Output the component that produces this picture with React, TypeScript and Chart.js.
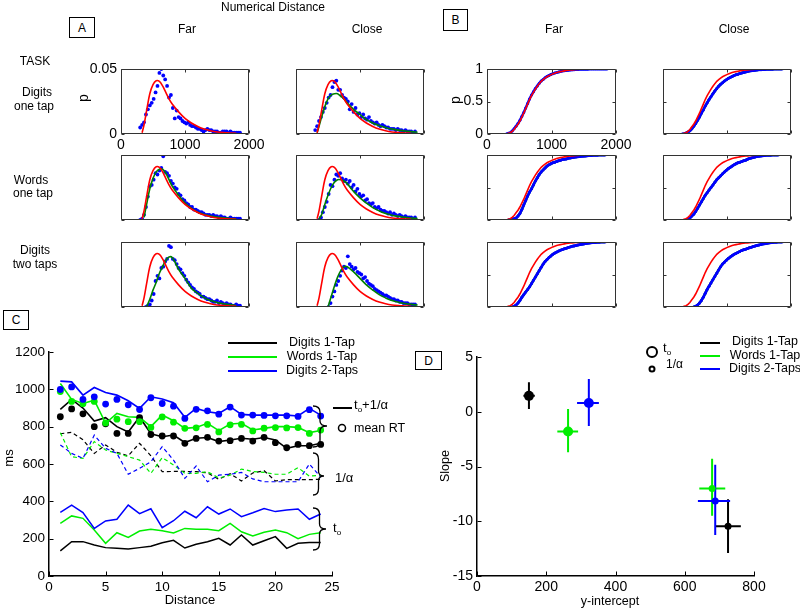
import React, { useEffect, useRef } from "react";
import { Chart, registerables } from "chart.js";
Chart.register(...registerables);

const FONT = 'Arial, "Liberation Sans", Helvetica, sans-serif';
Chart.defaults.font.family = FONT;
Chart.defaults.color = "#000";

// ---------- Panel A / B data (RT in ms) ----------
const BIN_X = [300, 330, 360, 390, 420, 450, 480, 510, 540, 570, 600, 630, 660, 690, 720, 750, 780, 810, 840, 870, 900, 930, 960, 990, 1020, 1050, 1080, 1110, 1140, 1170, 1200, 1230, 1260, 1290, 1320, 1350, 1380, 1410, 1440, 1470, 1500, 1530, 1560, 1590, 1620, 1650, 1680, 1710, 1740, 1770, 1800, 1830, 1860];
const CURVE_X = [300, 330, 360, 400, 450, 500, 550, 600, 650, 700, 750, 800, 900, 1000, 1100, 1200, 1300, 1400, 1500, 1600, 1700, 1800, 1900];

const A_RED = [null, 0.001, 0.007, 0.018, 0.031, 0.038, 0.041, 0.0405, 0.037, 0.032, 0.027, 0.023, 0.017, 0.012, 0.0085, 0.0058, 0.0038, 0.0025, 0.0016, 0.0011, 0.0008, 0.0005, null];
const A_GREEN_R1_CLOSE = [null, 0.001, 0.006, 0.013, 0.021, 0.027, 0.030, 0.031, 0.031, 0.029, 0.027, 0.024, 0.019, 0.015, 0.011, 0.0085, 0.0065, 0.005, 0.0038, 0.003, 0.0023, 0.0018, 0.0014];
const A_GREEN_R2_FAR = [null, null, 0.002, 0.012, 0.024, 0.032, 0.037, 0.039, 0.039, 0.036, 0.031, 0.026, 0.019, 0.013, 0.009, 0.006, 0.0042, 0.003, 0.0022, 0.0016, 0.0012, 0.0009, null];
const A_GREEN_R2_CLOSE = [null, null, 0.001, 0.004, 0.012, 0.019, 0.025, 0.029, 0.031, 0.031, 0.030, 0.028, 0.022, 0.017, 0.013, 0.0095, 0.007, 0.005, 0.0037, 0.0028, 0.002, 0.0015, 0.0011];
const A_GREEN_R3_FAR = [null, null, null, 0.0, 0.006, 0.013, 0.019, 0.026, 0.031, 0.036, 0.0385, 0.038, 0.029, 0.022, 0.0145, 0.0105, 0.0072, 0.005, 0.0035, 0.0025, 0.0018, 0.0012, null];
const A_GREEN_R3_CLOSE = [null, null, null, null, null, 0.0, 0.008, 0.016, 0.023, 0.028, 0.031, 0.031, 0.027, 0.022, 0.017, 0.013, 0.0095, 0.007, 0.005, 0.0037, 0.0027, 0.002, 0.0015];

const A_BLUE_R1_FAR = [0.005, 0.007, 0.009, 0.015, 0.019, 0.022, 0.024, 0.027, 0.032, 0.037, 0.047, 0.050, 0.045, 0.042, 0.037, 0.028, 0.030, 0.020, 0.012, 0.018, 0.013, 0.012, 0.010, 0.009, 0.008, 0.009, 0.007, 0.006, 0.006, 0.005, 0.004, 0.004, 0.003, 0.002, 0.003, 0.004, 0.003, 0.003, 0.002, 0.002, 0.002, 0.001, 0.001, 0.002, 0.002, 0.002, 0.001, 0.002, 0.001, 0.001, 0.001, 0.001, 0.001];
const A_BLUE_R1_CLOSE = [0.003, 0.006, 0.010, 0.013, 0.017, 0.020, 0.024, 0.028, 0.030, 0.036, 0.040, 0.041, 0.034, 0.034, 0.030, 0.028, 0.027, 0.025, 0.019, 0.023, 0.017, 0.020, 0.015, 0.016, 0.013, 0.015, 0.012, 0.011, 0.013, 0.010, 0.009, 0.008, 0.009, 0.007, 0.006, 0.007, 0.006, 0.005, 0.005, 0.004, 0.004, 0.004, 0.003, 0.004, 0.003, 0.003, 0.002, 0.003, 0.002, 0.002, 0.002, 0.001, 0.002];
const A_BLUE_R2_FAR = [0.0, 0.001, 0.004, 0.010, 0.018, 0.026, 0.027, 0.031, 0.036, 0.035, 0.038, 0.040, 0.049, 0.037, 0.036, 0.034, 0.030, 0.028, 0.025, 0.024, 0.020, 0.019, 0.016, 0.015, 0.013, 0.012, 0.010, 0.010, 0.008, 0.008, 0.007, 0.006, 0.006, 0.005, 0.004, 0.004, 0.004, 0.003, 0.004, 0.003, 0.003, 0.002, 0.003, 0.002, 0.002, 0.001, 0.001, 0.002, 0.001, 0.001, 0.001, 0.001, 0.001];
const A_BLUE_R2_CLOSE = [null, null, 0.0, 0.002, 0.006, 0.010, 0.014, 0.020, 0.027, 0.026, 0.031, 0.035, 0.034, 0.036, 0.032, 0.030, 0.031, 0.028, 0.030, 0.025, 0.027, 0.022, 0.024, 0.020, 0.018, 0.019, 0.015, 0.016, 0.013, 0.012, 0.013, 0.010, 0.009, 0.010, 0.008, 0.007, 0.007, 0.006, 0.005, 0.006, 0.004, 0.005, 0.004, 0.003, 0.004, 0.003, 0.002, 0.003, 0.002, 0.002, 0.002, 0.001, 0.002];
const A_BLUE_R3_FAR = [null, null, null, 0.0, 0.001, 0.002, 0.005, 0.010, 0.020, 0.024, 0.022, 0.030, 0.031, 0.035, 0.037, 0.047, 0.046, 0.037, 0.036, 0.033, 0.030, 0.029, 0.026, 0.024, 0.021, 0.019, 0.017, 0.015, 0.014, 0.012, 0.011, 0.010, 0.008, 0.008, 0.007, 0.006, 0.006, 0.005, 0.004, 0.004, 0.005, 0.003, 0.004, 0.003, 0.002, 0.003, 0.002, 0.002, 0.001, 0.001, 0.002, 0.001, 0.001];
const A_BLUE_R3_CLOSE = [null, null, null, null, null, null, null, 0.0, 0.003, 0.008, 0.012, 0.017, 0.020, 0.024, 0.028, 0.031, 0.030, 0.039, 0.033, 0.031, 0.029, 0.030, 0.027, 0.026, 0.025, 0.022, 0.023, 0.020, 0.018, 0.017, 0.016, 0.014, 0.013, 0.012, 0.011, 0.010, 0.009, 0.009, 0.008, 0.007, 0.006, 0.006, 0.005, 0.005, 0.004, 0.004, 0.003, 0.003, 0.003, 0.002, 0.002, 0.002, 0.002];

const B_RED = [0.0, 0.01, 0.02, 0.04, 0.07, 0.11, 0.15, 0.20, 0.26, 0.32, 0.39, 0.46, 0.53, 0.59, 0.64, 0.69, 0.735, 0.775, 0.81, 0.835, 0.86, 0.88, 0.895, 0.91, 0.925, 0.935, 0.945, 0.953, 0.96, 0.966, 0.971, 0.976, 0.98, 0.984, 0.987, 0.99, 0.992, 0.994, 0.995, 0.996, 0.997, 0.998, 0.999, 0.999, 1, 1, 1, 1, 1, 1, 1, null, null];
const B_BLUE_R1_FAR = [0.0, 0.01, 0.02, 0.045, 0.08, 0.12, 0.16, 0.21, 0.27, 0.33, 0.40, 0.47, 0.54, 0.60, 0.65, 0.70, 0.74, 0.78, 0.815, 0.84, 0.865, 0.885, 0.90, 0.915, 0.928, 0.938, 0.947, 0.955, 0.962, 0.968, 0.973, 0.977, 0.981, 0.984, 0.987, 0.99, 0.992, 0.994, 0.995, 0.996, 0.997, 0.998, 0.998, 0.999, 0.999, 1, 1, 1, 1, 1, 1, 1, 1];
const B_BLUE_R1_CLOSE = [0.0, 0.005, 0.015, 0.03, 0.05, 0.08, 0.12, 0.16, 0.21, 0.26, 0.32, 0.37, 0.43, 0.48, 0.53, 0.575, 0.62, 0.66, 0.70, 0.735, 0.765, 0.79, 0.815, 0.835, 0.855, 0.87, 0.885, 0.90, 0.91, 0.92, 0.93, 0.94, 0.948, 0.955, 0.962, 0.968, 0.973, 0.978, 0.982, 0.985, 0.988, 0.99, 0.992, 0.994, 0.995, 0.996, 0.997, 0.998, 0.999, 1, 1, 1, 1];
const B_BLUE_R2_FAR = [null, 0.0, 0.005, 0.01, 0.02, 0.03, 0.06, 0.10, 0.16, 0.23, 0.30, 0.37, 0.43, 0.48, 0.54, 0.60, 0.65, 0.70, 0.74, 0.77, 0.80, 0.83, 0.85, 0.865, 0.88, 0.89, 0.90, 0.91, 0.92, 0.93, 0.935, 0.94, 0.95, 0.955, 0.96, 0.965, 0.97, 0.975, 0.978, 0.98, 0.983, 0.986, 0.989, 0.991, 0.993, 0.995, 0.997, 0.998, 0.999, 1, 1, 1, null];
const B_BLUE_R2_CLOSE = [null, null, 0.0, 0.01, 0.03, 0.06, 0.09, 0.13, 0.18, 0.23, 0.28, 0.33, 0.38, 0.42, 0.46, 0.50, 0.54, 0.58, 0.62, 0.65, 0.68, 0.71, 0.74, 0.765, 0.79, 0.81, 0.83, 0.85, 0.865, 0.88, 0.89, 0.90, 0.91, 0.92, 0.935, 0.945, 0.955, 0.963, 0.97, 0.976, 0.98, 0.985, 0.989, 0.992, 0.995, 0.997, 0.998, 0.999, 1, 1, 1, null, null];
const B_BLUE_R3_FAR = [null, null, null, 0.0, 0.01, 0.03, 0.06, 0.10, 0.15, 0.19, 0.23, 0.27, 0.31, 0.36, 0.41, 0.46, 0.51, 0.56, 0.61, 0.66, 0.70, 0.73, 0.76, 0.785, 0.81, 0.83, 0.845, 0.86, 0.875, 0.885, 0.895, 0.905, 0.915, 0.925, 0.935, 0.94, 0.948, 0.955, 0.96, 0.966, 0.971, 0.976, 0.98, 0.984, 0.988, 0.991, 0.994, 0.996, 0.998, 1, 1, 1, null];
const B_BLUE_R3_CLOSE = [null, null, null, null, null, null, 0.0, 0.01, 0.03, 0.06, 0.10, 0.15, 0.21, 0.27, 0.32, 0.37, 0.42, 0.47, 0.52, 0.57, 0.62, 0.66, 0.69, 0.72, 0.745, 0.77, 0.79, 0.81, 0.825, 0.84, 0.855, 0.87, 0.88, 0.89, 0.90, 0.91, 0.92, 0.93, 0.94, 0.948, 0.955, 0.962, 0.968, 0.974, 0.979, 0.984, 0.988, 0.992, 0.995, 0.997, 0.999, 1, 1];

// ---------- Panel C data ----------
const DISTANCE = [1, 2, 3, 4, 5, 6, 7, 8, 9, 10, 11, 12, 13, 14, 15, 16, 17, 18, 19, 20, 21, 22, 23, 24];
const TASKS = ["Digits 1-Tap", "Words 1-Tap", "Digits 2-Taps"];
const TASK_COLORS = ["#000000", "#00ee00", "#0000ff"];

const MEAN_RT_DIGITS1 = [853, 895, 869, 800, 815, 764, 764, 848, 758, 750, 750, 711, 737, 743, 723, 725, 737, 723, 743, 714, 687, 705, 698, 705];
const MEAN_RT_WORDS1 = [988, 935, 923, 935, 820, 840, 827, 827, 796, 852, 824, 791, 794, 812, 772, 810, 812, 777, 792, 795, 793, 795, 764, 782];
const MEAN_RT_DIGITS2 = [999, 1013, 946, 960, 921, 946, 917, 892, 955, 924, 910, 844, 893, 885, 867, 905, 862, 862, 860, 858, 858, 855, 891, 857];

const FIT_DIGITS1 = [893, 946, 900, 830, 848, 800, 772, 852, 762, 746, 755, 715, 738, 742, 720, 729, 738, 733, 742, 729, 684, 698, 698, 711];
const FIT_WORDS1 = [1031, 946, 924, 942, 818, 871, 853, 850, 800, 862, 832, 791, 796, 818, 779, 814, 818, 782, 791, 800, 800, 796, 768, 779];
const FIT_DIGITS2 = [1044, 1040, 969, 1010, 983, 969, 939, 898, 960, 948, 928, 850, 898, 880, 871, 907, 866, 862, 862, 862, 862, 857, 898, 862];

const ALPHA_DIGITS1 = [762, 770, 730, 657, 702, 663, 644, 711, 644, 559, 560, 560, 559, 552, 518, 548, 509, 552, 564, 509, 516, 516, 516, 518];
const ALPHA_WORDS1 = [768, 639, 630, 720, 675, 657, 639, 621, 550, 634, 595, 550, 550, 559, 525, 540, 573, 560, 555, 545, 545, 580, 535, 540];
const ALPHA_DIGITS2 = [702, 657, 630, 755, 684, 657, 545, 577, 612, 693, 621, 523, 589, 505, 540, 545, 555, 520, 505, 505, 505, 505, 600, 530];

const T0_DIGITS1 = [135, 184, 184, 166, 152, 148, 145, 152, 159, 178, 191, 150, 170, 184, 202, 166, 220, 166, 189, 211, 148, 175, 179, 179];
const T0_WORDS1 = [282, 322, 309, 246, 175, 232, 207, 241, 251, 242, 230, 255, 250, 250, 243, 282, 237, 214, 234, 246, 232, 200, 223, 232];
const T0_DIGITS2 = [341, 380, 340, 255, 295, 304, 380, 334, 360, 259, 296, 347, 312, 371, 332, 359, 318, 339, 362, 345, 354, 359, 304, 332];

// ---------- Panel D data (per task: Digits 1-Tap, Words 1-Tap, Digits 2-Taps) ----------
const D_T0_X = [150, 263, 323];
const D_T0_Y = [1.45, -1.8, 0.8];
const D_T0_XLO = [134, 232, 289];
const D_T0_XHI = [167, 292, 352];
const D_T0_YLO = [0.25, -3.7, -1.3];
const D_T0_YHI = [2.7, 0.25, 3.0];

const D_A_X = [725, 679, 688];
const D_A_Y = [-10.45, -7.0, -8.15];
const D_A_XLO = [690, 642, 638];
const D_A_XHI = [762, 717, 731];
const D_A_YLO = [-12.9, -9.5, -11.25];
const D_A_YHI = [-8.0, -4.3, -4.85];

// ---------- helpers ----------
type Box = { x: number; y: number; w: number; h: number };
type M = { l: number; t: number; r: number; b: number };

function xy(xs: number[], ys: (number | null)[]) {
  const out: { x: number; y: number }[] = [];
  for (let i = 0; i < xs.length; i++) {
    const v = ys[i];
    if (v !== null && v !== undefined) out.push({ x: xs[i], y: v });
  }
  return out;
}

function lineDs(data: any[], color: string, width: number, order: number, extra: any = {}) {
  return { data, showLine: true, borderColor: color, backgroundColor: color, borderWidth: width, pointRadius: 0, pointHoverRadius: 0, fill: false, tension: 0, order, ...extra };
}
function dotDs(data: any[], color: string, r: number, order: number) {
  return { data, showLine: false, pointRadius: r, pointHoverRadius: r, pointBackgroundColor: color, pointBorderWidth: 0, backgroundColor: color, borderColor: color, order };
}

function axis(kind: "x" | "y", size: number, min: number, max: number, step: number, labels: boolean, fontSize: number, padding: number, border: boolean) {
  return {
    type: "linear",
    min,
    max,
    ticks: {
      stepSize: step,
      display: labels,
      autoSkip: false,
      maxRotation: 0,
      minRotation: 0,
      padding,
      font: { size: fontSize, family: FONT },
      color: "#000",
      callback: (v: number) => String(Math.round(v * 1000) / 1000),
    },
    grid: { display: false, drawTicks: false },
    border: border ? { display: true, color: "#000", width: 1.5 } : { display: false },
    afterFit: (s: any) => {
      if (kind === "x") s.height = size;
      else s.width = size;
      s.paddingLeft = 0;
      s.paddingRight = 0;
      s.paddingTop = 0;
      s.paddingBottom = 0;
    },
  };
}

function framePlugin(box: boolean, len: number, color: string) {
  return {
    id: "frame",
    afterDatasetsDraw(chart: any) {
      const { ctx, chartArea: a, scales } = chart;
      const xs = scales.x;
      const ys = scales.y;
      const L = Math.round(a.left) + 0.5;
      const R = Math.round(a.right) - 0.5;
      const T = Math.round(a.top) + 0.5;
      const B = Math.round(a.bottom) - 0.5;
      ctx.save();
      ctx.strokeStyle = color;
      ctx.lineWidth = 1;
      ctx.beginPath();
      if (box) ctx.rect(L, T, R - L, B - T);
      for (const t of xs.ticks) {
        const p = Math.round(xs.getPixelForValue(t.value)) + 0.5;
        ctx.moveTo(p, B);
        ctx.lineTo(p, B - len);
        if (box) {
          ctx.moveTo(p, T);
          ctx.lineTo(p, T + len);
        }
      }
      for (const t of ys.ticks) {
        const p = Math.round(ys.getPixelForValue(t.value)) + 0.5;
        ctx.moveTo(L, p);
        ctx.lineTo(L + len, p);
        if (box) {
          ctx.moveTo(R, p);
          ctx.lineTo(R - len, p);
        }
      }
      ctx.stroke();
      ctx.restore();
    },
  };
}

function baseOptions(m: M, scales: any) {
  return {
    responsive: false,
    maintainAspectRatio: false,
    animation: false,
    devicePixelRatio: 1,
    events: [],
    layout: { padding: { left: 0, top: m.t, right: m.r, bottom: 0 } },
    plugins: { legend: { display: false }, tooltip: { enabled: false } },
    scales,
  };
}

function Plot({ box, m, make }: { box: Box; m: M; make: (m: M) => any }) {
  const ref = useRef<HTMLCanvasElement | null>(null);
  useEffect(() => {
    if (!ref.current) return;
    const chart = new Chart(ref.current, make(m));
    return () => chart.destroy();
  }, []);
  const W = m.l + box.w + m.r;
  const H = m.t + box.h + m.b;
  return (
    <canvas
      ref={ref}
      width={W}
      height={H}
      style={{ position: "absolute", left: box.x - m.l, top: box.y - m.t, width: W, height: H }}
    />
  );
}

const SMALL_M: M = { l: 40, t: 10, r: 18, b: 22 };

function pdfConfig(blue: (number | null)[], green: (number | null)[] | null, labels: boolean) {
  return (m: M) => {
    const ds: any[] = [lineDs(xy(CURVE_X, A_RED), "#ff0000", 1.6, 0, { tension: 0.35 })];
    if (green) ds.push(lineDs(xy(CURVE_X, green), "#008000", 1.6, 1, { tension: 0.35 }));
    ds.push(dotDs(xy(BIN_X, blue), "#0000ff", 1.9, 2));
    return {
      type: "scatter",
      data: { datasets: ds },
      options: baseOptions(m, {
        x: axis("x", m.b, 0, 2000, 1000, labels, 14, 3, false),
        y: axis("y", m.l, 0, 0.05, 0.05, labels, 14, 4, false),
      }),
      plugins: [framePlugin(true, 3, "#333")],
    };
  };
}

function cdfConfig(blue: (number | null)[], withGreen: boolean, labels: boolean) {
  return (m: M) => {
    const ds: any[] = [lineDs(xy(BIN_X, B_RED), "#ff0000", 1.6, 0)];
    ds.push(lineDs(xy(BIN_X, blue), "#0000ff", 2.6, 1, { pointRadius: 1.5, pointBackgroundColor: "#0000ff", pointBorderWidth: 0 }));
    if (withGreen) ds.push(lineDs(xy(BIN_X, blue), "#008000", 2.6, 2));
    return {
      type: "scatter",
      data: { datasets: ds },
      options: baseOptions(m, {
        x: axis("x", m.b, 0, 2000, 1000, labels, 14, 3, false),
        y: axis("y", m.l, 0, 1, 0.5, labels, 14, 4, false),
      }),
      plugins: [framePlugin(true, 3, "#333")],
    };
  };
}

function cConfig(m: M) {
  const means = [MEAN_RT_DIGITS1, MEAN_RT_WORDS1, MEAN_RT_DIGITS2];
  const fits = [FIT_DIGITS1, FIT_WORDS1, FIT_DIGITS2];
  const alphas = [ALPHA_DIGITS1, ALPHA_WORDS1, ALPHA_DIGITS2];
  const t0s = [T0_DIGITS1, T0_WORDS1, T0_DIGITS2];
  const ds: any[] = [];
  for (let i = 0; i < 3; i++) {
    ds.push(dotDs(xy(DISTANCE, means[i]), TASK_COLORS[i], 3.4, 2 - i));
    ds.push(lineDs(xy(DISTANCE, fits[i]), TASK_COLORS[i], 1.6, 5 - i));
    ds.push(lineDs(xy(DISTANCE, alphas[i]), TASK_COLORS[i], 1.2, 8 - i, { borderDash: [4, 3] }));
    ds.push(lineDs(xy(DISTANCE, t0s[i]), TASK_COLORS[i], 1.5, 11 - i));
  }
  return {
    type: "scatter",
    data: { datasets: ds },
    options: baseOptions(m, {
      x: axis("x", m.b, 0, 25, 5, true, 13.5, 3, true),
      y: axis("y", m.l, 0, 1200, 200, true, 13.5, 4, true),
    }),
    plugins: [framePlugin(false, 4, "#000")],
  };
}

const errorBarPlugin = {
  id: "errbars",
  beforeDatasetsDraw(chart: any) {
    const { ctx, scales } = chart;
    const X = (v: number) => scales.x.getPixelForValue(v);
    const Y = (v: number) => scales.y.getPixelForValue(v);
    ctx.save();
    ctx.lineWidth = 2;
    const groups = [
      [D_A_X, D_A_Y, D_A_XLO, D_A_XHI, D_A_YLO, D_A_YHI],
      [D_T0_X, D_T0_Y, D_T0_XLO, D_T0_XHI, D_T0_YLO, D_T0_YHI],
    ];
    for (const g of groups) {
      for (const i of [0, 1, 2]) {
        ctx.strokeStyle = TASK_COLORS[i];
        ctx.beginPath();
        ctx.moveTo(X(g[2][i]), Y(g[1][i]));
        ctx.lineTo(X(g[3][i]), Y(g[1][i]));
        ctx.moveTo(X(g[0][i]), Y(g[4][i]));
        ctx.lineTo(X(g[0][i]), Y(g[5][i]));
        ctx.stroke();
      }
    }
    ctx.restore();
  },
};

function dConfig(m: M) {
  const ds: any[] = [];
  for (let i = 0; i < 3; i++) {
    ds.push(dotDs([{ x: D_T0_X[i], y: D_T0_Y[i] }], TASK_COLORS[i], 5, i));
    ds.push(dotDs([{ x: D_A_X[i], y: D_A_Y[i] }], TASK_COLORS[i], 3.5, i));
  }
  return {
    type: "scatter",
    data: { datasets: ds },
    options: baseOptions(m, {
      x: axis("x", m.b, 0, 800, 200, true, 14, 3, true),
      y: axis("y", m.l, -15, 5, 5, true, 14, 4, true),
    }),
    plugins: [errorBarPlugin, framePlugin(false, 4, "#000")],
  };
}

// ---------- text helpers ----------
function Txt({ x, y, s = 12, rot = false, left = false, children }: any) {
  return (
    <div
      style={{
        position: "absolute",
        left: x,
        top: y,
        transform: `translate(${left ? "0" : "-50%"}, -50%)${rot ? " rotate(-90deg)" : ""}`,
        fontSize: s,
        lineHeight: 1,
        whiteSpace: "nowrap",
        fontFamily: FONT,
        color: "#000",
      }}
    >
      {children}
    </div>
  );
}

function PanelBox({ x, y, w, h, label }: any) {
  return (
    <div
      style={{
        position: "absolute",
        left: x,
        top: y,
        width: w,
        height: h,
        border: "1px solid #000",
        boxSizing: "border-box",
        display: "flex",
        alignItems: "center",
        justifyContent: "center",
        fontSize: 12,
        fontFamily: FONT,
        background: "#fff",
      }}
    >
      {label}
    </div>
  );
}

const Sub = ({ children }: any) => (
  <span style={{ fontSize: "0.62em", position: "relative", top: "0.35em" }}>{children}</span>
);

function brace(x0: number, y0: number, y1: number, tipX: number, ym: number) {
  const xm = (x0 + tipX) / 2;
  const h = y1 - y0;
  return `M ${x0} ${y0} Q ${xm} ${y0} ${xm} ${y0 + h * 0.15} L ${xm} ${ym - h * 0.12} Q ${xm} ${ym} ${tipX} ${ym} Q ${xm} ${ym} ${xm} ${ym + h * 0.12} L ${xm} ${y1 - h * 0.15} Q ${xm} ${y1} ${x0} ${y1}`;
}

const FAR_X = 121;
const CLOSE_X = 296;
const B_FAR_X = 487;
const B_CLOSE_X = 663;
const ROW_Y = [69, 155, 242];

export default function App() {
  const aBlue = [
    [A_BLUE_R1_FAR, A_BLUE_R1_CLOSE],
    [A_BLUE_R2_FAR, A_BLUE_R2_CLOSE],
    [A_BLUE_R3_FAR, A_BLUE_R3_CLOSE],
  ];
  const aGreen = [
    [null, A_GREEN_R1_CLOSE],
    [A_GREEN_R2_FAR, A_GREEN_R2_CLOSE],
    [A_GREEN_R3_FAR, A_GREEN_R3_CLOSE],
  ];
  const bBlue = [
    [B_BLUE_R1_FAR, B_BLUE_R1_CLOSE],
    [B_BLUE_R2_FAR, B_BLUE_R2_CLOSE],
    [B_BLUE_R3_FAR, B_BLUE_R3_CLOSE],
  ];

  const plots: any[] = [];
  for (let r = 0; r < 3; r++) {
    for (let c = 0; c < 2; c++) {
      const labels = r === 0 && c === 0;
      plots.push(
        <Plot key={`a${r}${c}`} box={{ x: c === 0 ? FAR_X : CLOSE_X, y: ROW_Y[r], w: 128, h: 65 }} m={SMALL_M} make={pdfConfig(aBlue[r][c], aGreen[r][c] as any, labels)} />
      );
      plots.push(
        <Plot key={`b${r}${c}`} box={{ x: c === 0 ? B_FAR_X : B_CLOSE_X, y: ROW_Y[r], w: c === 0 ? 129 : 128, h: 65 }} m={SMALL_M} make={cdfConfig(bBlue[r][c], !(r === 0 && c === 0), labels)} />
      );
    }
  }

  return (
    <div style={{ position: "fixed", left: 0, top: 0, width: 800, height: 608, background: "#fff", overflow: "hidden", fontFamily: FONT }}>
      {plots}
      <Plot box={{ x: 49, y: 352, w: 283, h: 224 }} m={{ l: 45, t: 10, r: 16, b: 28 }} make={cConfig} />
      <Plot box={{ x: 477, y: 357, w: 277, h: 219 }} m={{ l: 40, t: 10, r: 24, b: 26 }} make={dConfig} />

      <svg width={800} height={608} style={{ position: "absolute", left: 0, top: 0, pointerEvents: "none" }}>
        {TASKS.map((t, i) => (
          <line key={`cl${i}`} x1={228} x2={277} y1={343 + i * 14} y2={343 + i * 14} stroke={TASK_COLORS[i]} strokeWidth={2} />
        ))}
        <path d={brace(313, 406, 447, 327, 426)} fill="none" stroke="#000" strokeWidth={1.3} />
        <path d={brace(313, 453, 495, 324, 476)} fill="none" stroke="#000" strokeWidth={1.3} />
        <path d={brace(313, 508, 550, 326, 529)} fill="none" stroke="#000" strokeWidth={1.3} />
        <line x1={333} x2={352} y1={408} y2={408} stroke="#000" strokeWidth={2} />
        <circle cx={342} cy={428} r={3.5} fill="none" stroke="#000" strokeWidth={1.5} />
        <circle cx={652} cy={352} r={5} fill="none" stroke="#000" strokeWidth={2} />
        <circle cx={652} cy={369} r={2.5} fill="none" stroke="#000" strokeWidth={2} />
        {TASKS.map((t, i) => (
          <line key={`dl${i}`} x1={700} x2={720} y1={343 + i * 13} y2={343 + i * 13} stroke={TASK_COLORS[i]} strokeWidth={2} />
        ))}
      </svg>

      {/* Panel A / B headers */}
      <Txt x={273} y={7} s={12}>Numerical Distance</Txt>
      <PanelBox x={69} y={17} w={26} h={21} label="A" />
      <PanelBox x={443} y={9} w={25} h={22} label="B" />
      <Txt x={187} y={29}>Far</Txt>
      <Txt x={367} y={29}>Close</Txt>
      <Txt x={554} y={29}>Far</Txt>
      <Txt x={734} y={29}>Close</Txt>
      <Txt x={35} y={61}>TASK</Txt>
      <Txt x={37} y={92}>Digits</Txt>
      <Txt x={34} y={106}>one tap</Txt>
      <Txt x={31} y={180}>Words</Txt>
      <Txt x={33} y={193}>one tap</Txt>
      <Txt x={35} y={250}>Digits</Txt>
      <Txt x={35} y={264}>two taps</Txt>
      <Txt x={83} y={98} s={14} rot>p</Txt>
      <Txt x={455} y={100} s={14} rot>p</Txt>

      {/* Panel C */}
      <PanelBox x={3} y={310} w={26} h={20} label="C" />
      {TASKS.map((t, i) => (
        <Txt key={`ct${i}`} x={322} y={342 + i * 14} s={12.5}>{t}</Txt>
      ))}
      <Txt x={354} y={405} s={13} left>
        t<Sub>o</Sub>+1/α
      </Txt>
      <Txt x={354} y={428} s={12.5} left>mean RT</Txt>
      <Txt x={335} y={477} s={13} left>1/α</Txt>
      <Txt x={333} y={528} s={13} left>
        t<Sub>o</Sub>
      </Txt>
      <Txt x={8} y={458} s={13} rot>ms</Txt>
      <Txt x={190} y={599} s={13}>Distance</Txt>

      {/* Panel D */}
      <PanelBox x={415} y={351} w={27} h={19} label="D" />
      <Txt x={663} y={348} s={13} left>
        t<Sub>o</Sub>
      </Txt>
      <Txt x={666} y={364} s={12} left>1/α</Txt>
      {TASKS.map((t, i) => (
        <Txt key={`dt${i}`} x={765} y={341 + i * 13.5} s={12.5}>{t}</Txt>
      ))}
      <Txt x={445} y={466} s={12.5} rot>Slope</Txt>
      <Txt x={610} y={601} s={12.5}>y-intercept</Txt>
    </div>
  );
}
